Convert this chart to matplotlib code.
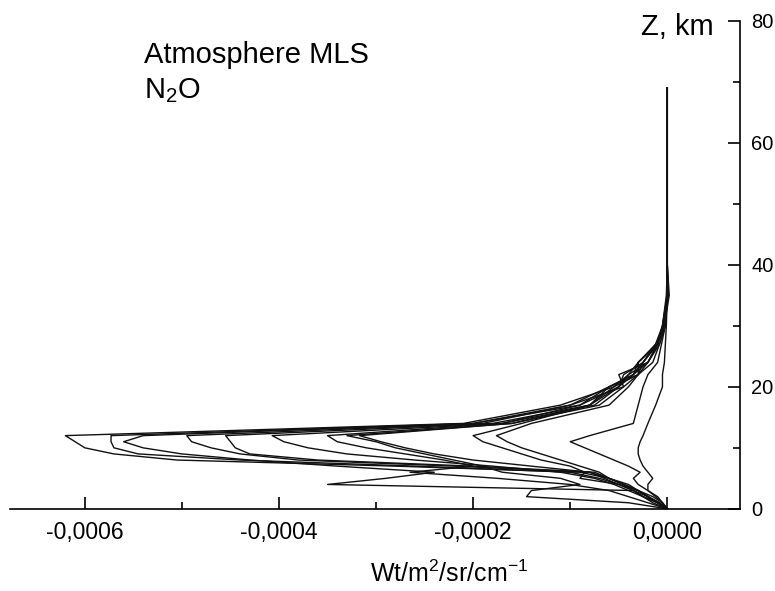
import numpy as np
import matplotlib
matplotlib.use("Agg")
import matplotlib.pyplot as plt
from matplotlib.ticker import FuncFormatter, MultipleLocator

plt.rcParams['font.family'] = ['Liberation Sans', 'DejaVu Sans']
plt.rcParams['mathtext.fontset'] = 'custom'
plt.rcParams['mathtext.rm'] = 'Liberation Sans'
plt.rcParams['mathtext.it'] = 'Liberation Sans'

# altitude grid, km
z_km = [0, 1, 2, 3, 4, 5, 6, 7, 8, 9, 10, 11, 12, 14, 17, 20, 22, 24, 27, 30, 35, 40, 50, 69]

# radiance profiles, units of 1e-4 Wt/m2/sr/cm-1 (one per case)
p1 = [0, -0.1, -0.2, -0.3, -0.45, -0.6, -0.9, -2.8, -5.05, -5.7, -6.0, -6.1, -6.2, -2.1, -1.1, -0.55, -0.4, -0.3, -0.12, -0.05, -0.01, 0, 0, 0]
p2 = [0, -0.1, -0.25, -0.35, -0.5, -0.7, -1.0, -2.6, -4.4, -5.45, -5.7, -5.73, -5.73, -2.0, -0.9, -0.6, -0.35, -0.25, -0.1, -0.04, 0.01, 0, 0, 0]
p3 = [0, -0.1, -0.2, -0.35, -0.5, -0.65, -0.8, -2.2, -3.8, -4.4, -4.7, -4.9, -4.95, -1.9, -1.0, -0.45, -0.5, -0.2, -0.1, -0.05, 0, 0, 0, 0]
p4 = [0, -0.08, -0.2, -0.3, -0.4, -0.6, -0.75, -2.0, -3.6, -4.3, -4.45, -4.5, -4.55, -1.8, -0.8, -0.6, -0.3, -0.25, -0.12, -0.03, 0.02, 0, 0, 0]
p5 = [0, -0.1, -0.25, -0.4, -0.55, -0.75, -1.1, -1.8, -2.6, -3.3, -3.7, -3.95, -4.07, -1.7, -0.9, -0.5, -0.4, -0.2, -0.1, -0.04, 0, 0, 0, 0]
p6 = [0, -0.1, -0.2, -0.3, -0.45, -0.6, -0.8, -1.4, -2.0, -2.4, -2.7, -2.95, -3.17, -1.6, -0.7, -0.45, -0.3, -0.3, -0.1, -0.05, 0, 0, 0, 0]
p7 = [0, -0.08, -0.2, -0.3, -0.5, -0.9, -0.85, -1.0, -1.3, -1.5, -1.7, -1.9, -2.0, -1.5, -0.8, -0.5, -0.35, -0.2, -0.1, -0.03, 0.01, 0, 0, 0]
p8 = [0, -0.05, -0.15, -0.3, -0.45, -0.6, -0.7, -0.9, -1.1, -1.3, -1.5, -1.65, -1.76, -1.4, -0.6, -0.4, -0.3, -0.15, -0.08, -0.02, 0, 0, 0, 0]
p9 = [0, -0.05, -0.1, -0.2, -0.3, -0.35, -0.28, -0.4, -0.55, -0.7, -0.85, -1.0, -0.8, -0.35, -0.3, -0.25, -0.2, -0.1, -0.06, -0.02, 0, 0, 0, 0]
p10 = [0, -0.05, -0.12, -0.2, -0.2, -0.15, -0.2, -0.25, -0.28, -0.3, -0.3, -0.28, -0.25, -0.2, -0.12, -0.05, -0.05, -0.03, -0.02, -0.01, 0, 0, 0, 0]
p11 = [0, -0.15, -0.25, -0.35, -3.5, -2.9, -2.4, -3.4, -4.3, -5.0, -5.4, -5.6, -5.4, -2.0, -1.0, -0.6, -0.35, -0.3, -0.1, -0.04, 0, 0, 0, 0]
p12 = [0, -0.2, -0.4, -0.6, -1.0, -1.75, -2.65, -2.0, -2.3, -2.7, -3.1, -3.4, -3.5, -1.7, -0.75, -0.5, -0.45, -0.25, -0.1, -0.03, 0, 0, 0, 0]
p13 = [0, -0.4, -1.45, -1.4, -0.9, -1.1, -1.7, -1.9, -2.2, -2.5, -2.8, -3.0, -3.3, -1.6, -0.8, -0.55, -0.3, -0.2, -0.08, -0.02, 0, 0, 0, 0]

profiles = [p1, p2, p3, p4, p5, p6, p7, p8, p9, p10, p11, p12, p13]

fig = plt.figure(figsize=(7.75, 5.91), dpi=100)
ax = fig.add_axes([0.013, 0.139, 0.942, 0.826])

for p in profiles:
    ax.plot(np.array(p) * 1e-4, z_km, color='#111111', lw=1.0)

ax.set_xlim(-0.000677, 0.000075)
ax.set_ylim(0, 80)

ax.spines['left'].set_visible(False)
ax.spines['top'].set_visible(False)
ax.spines['right'].set_linewidth(1.2)
ax.spines['bottom'].set_linewidth(1.2)

ax.yaxis.tick_right()
ax.yaxis.set_major_locator(MultipleLocator(20))
ax.yaxis.set_minor_locator(MultipleLocator(10))
ax.xaxis.set_major_locator(MultipleLocator(0.0002))
ax.xaxis.set_minor_locator(MultipleLocator(0.0001))
ax.tick_params(axis='both', which='major', direction='in', length=9, width=1.2)
ax.tick_params(axis='both', which='minor', direction='in', length=5, width=1.2)
ax.tick_params(axis='y', pad=8, labelsize=14.5)
ax.tick_params(axis='x', pad=9, labelsize=16.5)


def comma_fmt(v, pos):
    if abs(v) < 1e-9:
        return '0,0000'
    return f'{v:.4f}'.replace('.', ',')


ax.xaxis.set_major_formatter(FuncFormatter(comma_fmt))

fig.text(0.186, 0.893, 'Atmosphere MLS', fontsize=21, va='baseline')
fig.text(0.186, 0.834, 'N$_2$O', fontsize=21, va='baseline')
fig.text(0.921, 0.941, 'Z, km', fontsize=21, va='baseline', ha='right')
fig.text(0.579, 0.016, 'Wt/m$^2$/sr/cm$^{-1}$', fontsize=18, va='baseline', ha='center')

fig.savefig('out.png', dpi=100, facecolor='white')
